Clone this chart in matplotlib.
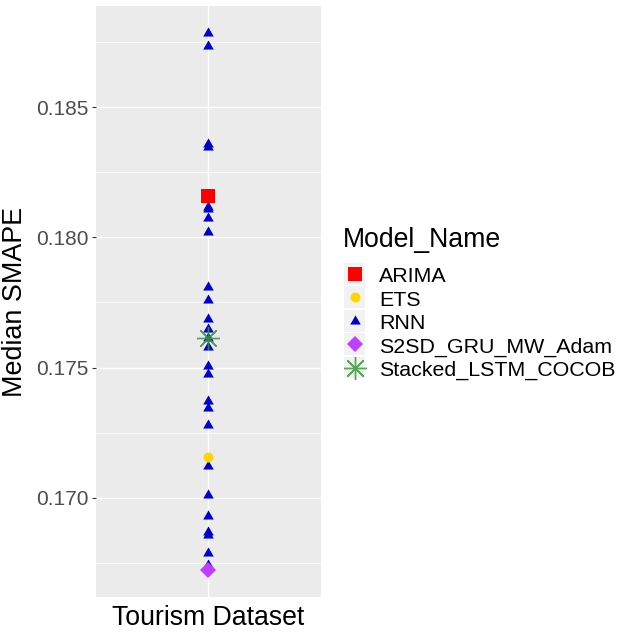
import matplotlib
matplotlib.use("Agg")
import matplotlib.pyplot as plt
from matplotlib.lines import Line2D
from matplotlib.patches import Rectangle
from matplotlib.ticker import MultipleLocator

plt.rcParams["font.family"] = ["Liberation Sans", "DejaVu Sans"]

# values
category = "Tourism Dataset"
rnn_smape = [
    0.187860, 0.187362, 0.183585, 0.183493, 0.181170, 0.181100,
    0.180752, 0.180211, 0.178075, 0.177577, 0.176848, 0.176465,
    0.176139, 0.175794, 0.175065, 0.174739, 0.173723, 0.173455,
    0.172803, 0.171219, 0.170107, 0.169287, 0.168692, 0.168574,
    0.167887, 0.167396,
]
arima_smape = [0.181591]
ets_smape = [0.171565]
s2sd_smape = [0.167213]
stacked_smape = [0.176127]

model_names = ["ARIMA", "ETS", "RNN", "S2SD_GRU_MW_Adam", "Stacked_LSTM_COCOB"]
y_ticks = [0.170, 0.175, 0.180, 0.185]

W, H = 630, 636
fig = plt.figure(figsize=(W / 100, H / 100), dpi=100)
ax = fig.add_axes([96 / W, 1 - 597 / H, (320.7 - 96) / W, (597 - 6) / H])
ax.set_facecolor("#EBEBEB")
for s in ax.spines.values():
    s.set_visible(False)

tri = [(-1, -0.577), (1, -0.577), (0, 1.155)]
star = (8, 2, 0)
styles = {
    "ARIMA": dict(marker="s", color="#FF0000", ms=9.4),
    "ETS": dict(marker="o", color="#FFD700", ms=7.2),
    "RNN": dict(marker=tri, color="#0000CD", ms=8.8),
    "S2SD_GRU_MW_Adam": dict(marker="D", color="#BF3EFF", ms=7.8),
    "Stacked_LSTM_COCOB": dict(marker=star, color="#3A9A3A", ms=16.5),
}
series = {
    "RNN": rnn_smape,
    "ARIMA": arima_smape,
    "ETS": ets_smape,
    "S2SD_GRU_MW_Adam": s2sd_smape,
    "Stacked_LSTM_COCOB": stacked_smape,
}

for i, (name, vals) in enumerate(series.items()):
    st = styles[name]
    is_star = name == "Stacked_LSTM_COCOB"
    ax.plot([category] * len(vals), vals, linestyle="none", marker=st["marker"],
            ms=st["ms"], color=st["color"], mec=st["color"],
            mew=1.0 if is_star else 0, alpha=0.85 if is_star else 1, zorder=3 + i)

# ggplot style expansion
all_vals = rnn_smape + arima_smape + ets_smape + s2sd_smape + stacked_smape
lo, hi = min(all_vals), max(all_vals)
pad = (hi - lo) * 0.05
ax.set_ylim(lo - pad, hi + pad)
ax.set_xlim(-0.6, 0.6)

ax.set_yticks(y_ticks)
ax.set_yticklabels([f"{v:.3f}" for v in y_ticks])
ax.yaxis.set_minor_locator(MultipleLocator(0.0025))
ax.grid(True, which="major", color="white", lw=1.05)
ax.grid(True, which="minor", axis="y", color="white", lw=0.5)
ax.set_axisbelow(True)
ax.tick_params(axis="y", which="major", length=2.9, width=0.8, color="#333333",
               labelsize=15, labelcolor="#4D4D4D", pad=2.2)
ax.tick_params(axis="y", which="minor", length=0)
ax.tick_params(axis="x", length=0, labelsize=19.2, labelcolor="black", pad=6)
ax.set_ylabel("Median SMAPE", fontsize=19.4, labelpad=6)

# legend drawn by hand, ggplot style
def fx(px):
    return px / W


def fy(py):
    return 1 - py / H


fig.text(fx(343), fy(247), "Model_Name", fontsize=19.2, va="baseline", ha="left")
row0, step = 274.0, 23.4
for k, name in enumerate(model_names):
    cy = row0 + k * step
    fig.add_artist(Rectangle((fx(344), fy(cy + 10.9)), 21 / W, 21.8 / H,
                             transform=fig.transFigure, facecolor="#F2F2F2",
                             edgecolor="none"))
    st = styles[name]
    is_star = name == "Stacked_LSTM_COCOB"
    fig.add_artist(Line2D([fx(354.5)], [fy(cy)], transform=fig.transFigure,
                          linestyle="none", marker=st["marker"], ms=st["ms"],
                          color=st["color"], mec=st["color"],
                          mew=1.0 if is_star else 0, alpha=0.85 if is_star else 1))
    fig.text(fx(379), fy(cy + 8.5), name, fontsize=15.4, va="baseline", ha="left")

fig.savefig("out.png", dpi=100)
